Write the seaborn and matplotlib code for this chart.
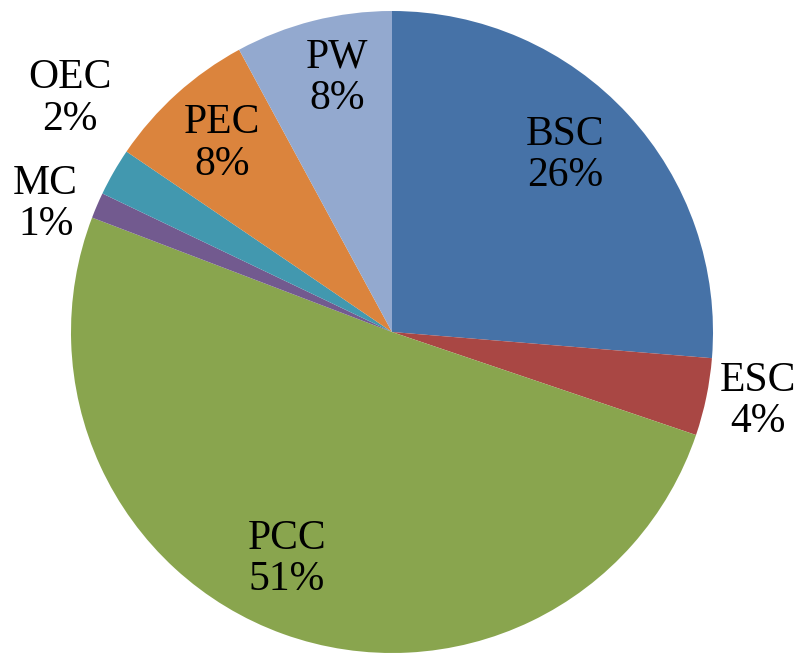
import numpy as np
import seaborn as sns
import matplotlib.pyplot as plt

sns.set_theme(style="white")
plt.rcParams["font.family"] = ["Liberation Serif", "DejaVu Serif"]

# slice data (percent), clockwise from 12 o'clock
categories = ["BSC", "ESC", "PCC", "MC", "OEC", "PEC", "PW"]
shares = [26.3, 3.9, 50.6, 1.3, 2.4, 7.6, 7.9]
colors = ["#4672A7", "#A94744", "#89A54E", "#725A8F", "#4298AF", "#DB843D", "#93A9CF"]

# label placement: radius factor and angle nudge (deg) per slice
label_r = [0.77, 1.16, 0.78, 1.15, 1.24, 0.79, 0.81]
label_dang = [3, 1, -5, 3, -6, 0, -2]

fig = plt.figure(figsize=(8.02, 6.53), dpi=100)
ax = fig.add_axes([71 / 802, 0 / 653, 642 / 802, 642 / 653])

wedges, _ = ax.pie(shares, colors=colors, startangle=90, counterclock=False,
                   radius=1.0, wedgeprops=dict(linewidth=0))

for w, name, val, r, da in zip(wedges, categories, shares, label_r, label_dang):
    mid = np.deg2rad((w.theta1 + w.theta2) / 2 + da)
    ax.text(r * np.cos(mid), r * np.sin(mid), f"{name}\n{val:.0f}%",
            ha="center", va="center", fontsize=30, color="black",
            linespacing=1.1)

ax.set_xlim(-1, 1)
ax.set_ylim(-1, 1)
ax.set_aspect("equal")
ax.axis("off")

fig.savefig("out.png", dpi=100)
